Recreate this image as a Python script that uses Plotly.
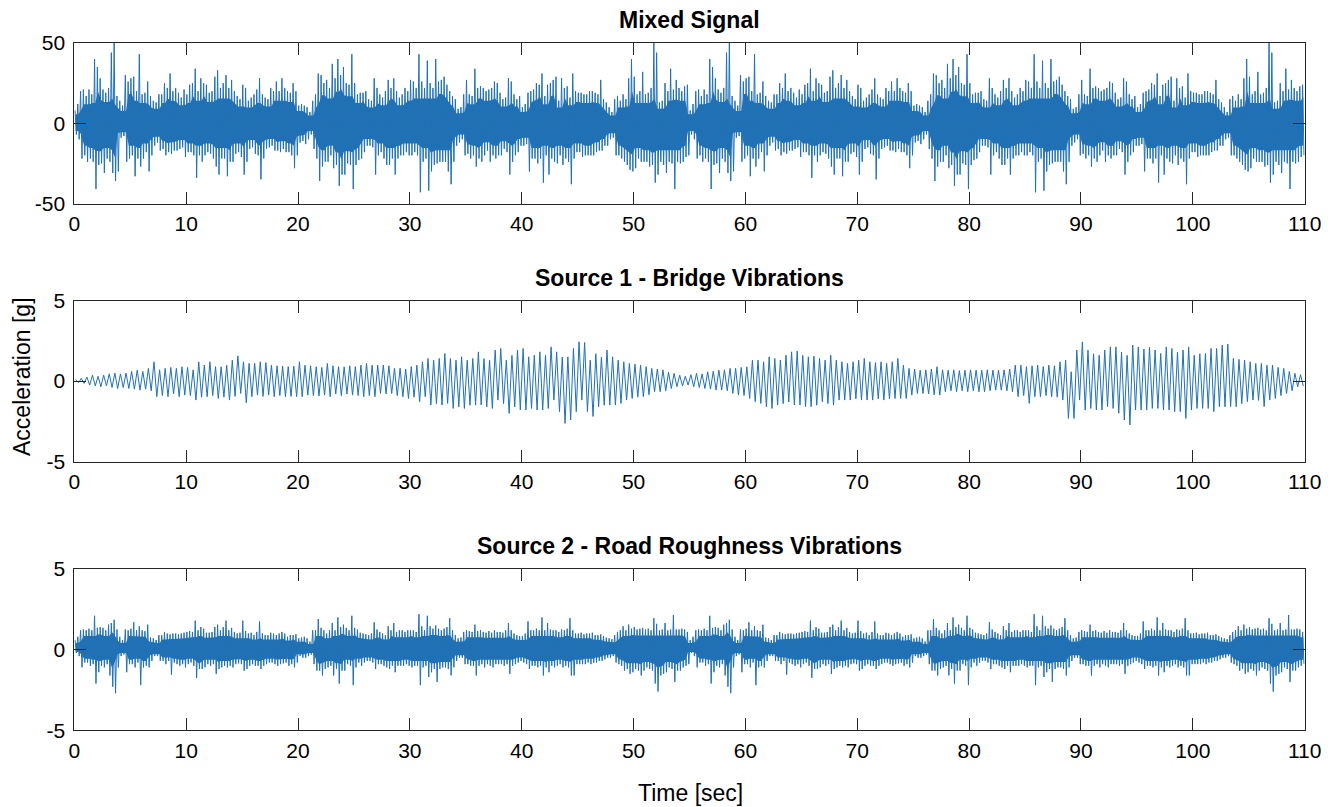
import plotly.graph_objects as go

# ---------------- data ----------------
# Each value is the upper / lower extreme of the trace inside one time bin.
mixed_bin = 0.25      # s
bridge_bin = 0.5      # s
road_bin = 0.25       # s

# Mixed signal, 0-55 s (the picture repeats this pattern from 55 to 110 s)
mixed_hi_0_55 = [
    8, 12, 20, 21, 17, 21, 18, 40, 35, 28, 21, 19, 22, 44, 50, 17, 14, 11, 30, 26,
    28, 29, 20, 43, 18, 19, 26, 17, 14, 13, 18, 18, 25, 22, 31, 20, 22, 19, 16, 21,
    18, 24, 25, 34, 20, 28, 25, 24, 19, 20, 29, 33, 22, 25, 30, 22, 27, 20, 17, 15,
    24, 22, 14, 16, 18, 21, 28, 18, 16, 15, 22, 20, 26, 20, 28, 22, 20, 19, 25, 20,
    11, 12, 11, 10, 7, 14, 18, 31, 30, 25, 27, 22, 37, 28, 40, 30, 35, 25, 24, 43,
    25, 18, 19, 19, 20, 15, 14, 28, 22, 18, 16, 20, 27, 22, 28, 20, 16, 18, 22, 20,
    27, 26, 22, 43, 26, 22, 39, 25, 22, 40, 26, 27, 29, 24, 20, 17, 15, 9, 10, 18,
    27, 18, 17, 34, 22, 23, 22, 20, 21, 22, 26, 25, 19, 15, 16, 28, 26, 18, 15, 17,
    10, 12, 19, 20, 21, 25, 24, 31, 17, 24, 25, 27, 29, 14, 28, 22, 23, 16, 31, 20,
    19, 19, 18, 18, 20, 20, 19, 18, 27, 15, 13, 10, 7, 15, 17, 14, 18, 15, 28, 40,
    29, 18, 20, 32, 18, 19, 22, 50, 44, 13, 14, 25, 20, 34, 21, 27, 22, 20, 23, 24,
]
mixed_lo_0_55 = [
    -7, -10, -22, -20, -24, -22, -24, -41, -26, -25, -31, -22, -24, -31, -36, -30, -9, -8, -24, -22,
    -20, -33, -22, -27, -22, -18, -30, -20, -14, -12, -17, -16, -20, -18, -19, -17, -17, -16, -15, -21,
    -18, -18, -20, -34, -20, -24, -20, -18, -19, -22, -27, -32, -22, -22, -33, -24, -24, -19, -18, -21,
    -32, -24, -16, -15, -19, -20, -35, -22, -16, -15, -14, -17, -17, -18, -16, -18, -18, -20, -28, -20,
    -12, -11, -13, -10, -7, -16, -22, -36, -27, -24, -24, -20, -28, -26, -39, -32, -32, -25, -26, -41,
    -26, -23, -22, -18, -14, -14, -15, -32, -20, -18, -22, -26, -26, -22, -32, -22, -20, -20, -18, -20,
    -20, -18, -20, -43, -24, -22, -42, -30, -26, -25, -24, -24, -24, -30, -38, -24, -14, -12, -10, -20,
    -19, -22, -20, -27, -22, -24, -20, -17, -24, -20, -22, -20, -20, -16, -18, -32, -24, -20, -18, -14,
    -14, -13, -30, -22, -22, -25, -22, -37, -20, -32, -22, -24, -25, -20, -26, -22, -24, -38, -22, -18,
    -18, -21, -20, -20, -20, -20, -18, -17, -17, -14, -14, -10, -9, -20, -20, -22, -24, -26, -29, -30,
    -28, -22, -24, -24, -24, -27, -26, -37, -32, -24, -26, -31, -24, -25, -41, -24, -25, -24, -21, -20,
]

# Source 1 - bridge vibrations, 0-110 s
bridge_hi = [
    0.1, 0.17, 0.25, 0.37, 0.3, 0.37, 0.45, 0.5, 0.45, 0.5, 0.6, 0.68, 0.6, 0.79, 1.2, 0.7, 0.79, 0.85, 0.79, 0.89,
    0.85, 0.7, 1.2, 1.0, 1.2, 0.9, 0.89, 0.99, 1.3, 1.57, 1.2, 1.1, 1.1, 1.2, 1.15, 0.99, 0.95, 0.93, 0.9, 0.93,
    1.2, 0.99, 0.95, 0.89, 0.85, 1.1, 0.95, 0.9, 0.89, 0.95, 0.9, 1.0, 1.1, 0.99, 0.99, 1.0, 0.95, 0.79, 0.8, 0.75,
    0.9, 0.99, 1.2, 1.41, 1.3, 1.41, 1.72, 1.4, 1.3, 1.51, 1.3, 1.41, 1.82, 1.4, 1.3, 1.93, 2.03, 1.3, 1.6, 1.93,
    2.03, 1.51, 1.61, 1.82, 1.6, 2.13, 1.82, 1.5, 1.51, 2.03, 2.44, 2.4, 1.3, 1.7, 1.5, 1.93, 1.51, 1.3, 1.2, 1.1,
    1.05, 0.99, 0.9, 0.79, 0.75, 0.7, 0.55, 0.48, 0.37, 0.3, 0.4, 0.48, 0.45, 0.58, 0.62, 0.68, 0.7, 0.79, 0.79, 0.85,
    0.89, 1.3, 1.3, 1.2, 1.51, 1.41, 1.3, 1.61, 1.82, 1.87, 1.6, 1.51, 1.55, 1.41, 1.3, 1.61, 1.3, 1.2, 1.1, 1.2,
    1.3, 1.41, 1.2, 1.15, 1.2, 1.1, 1.2, 1.41, 0.99, 0.79, 0.75, 0.68, 0.7, 0.75, 0.89, 0.7, 0.68, 0.7, 0.65, 0.68,
    0.7, 0.68, 0.68, 0.7, 0.68, 0.68, 0.7, 0.75, 0.99, 0.99, 0.9, 0.95, 0.99, 0.9, 0.99, 0.95, 1.2, 1.3, 0.58, 1.93,
    2.44, 1.93, 1.7, 1.61, 1.93, 2.13, 2.13, 1.8, 1.6, 2.24, 2.13, 2.0, 2.1, 1.93, 1.72, 2.13, 2.03, 1.8, 1.93, 2.13,
    1.61, 1.7, 1.72, 2.03, 2.03, 2.24, 2.3, 1.41, 1.35, 1.3, 1.2, 1.1, 1.1, 0.99, 0.99, 0.85, 0.79, 0.6, 0.48, 0.4,
]
bridge_lo = [
    -0.1, -0.14, -0.25, -0.3, -0.35, -0.3, -0.4, -0.46, -0.4, -0.46, -0.5, -0.56, -0.5, -0.6, -0.97, -0.9, -0.97, -0.8, -0.97, -0.87,
    -0.9, -1.18, -1.0, -0.97, -0.9, -1.08, -1.0, -1.18, -0.95, -0.77, -1.35, -0.97, -0.87, -0.95, -0.87, -0.97, -0.9, -0.97, -0.95, -0.97,
    -0.97, -0.87, -0.9, -0.92, -0.87, -0.97, -0.8, -0.9, -0.8, -0.87, -0.9, -0.97, -0.9, -0.97, -0.77, -0.8, -0.77, -0.9, -0.97, -1.08,
    -1.0, -1.28, -0.97, -1.49, -1.4, -1.49, -1.39, -1.7, -1.6, -1.7, -1.5, -1.49, -1.49, -1.6, -1.7, -1.18, -1.4, -2.01, -1.6, -1.8,
    -1.8, -1.7, -1.8, -1.8, -1.7, -1.18, -1.9, -2.63, -2.42, -1.9, -1.18, -1.9, -2.2, -1.6, -1.5, -1.49, -1.49, -1.39, -1.18, -1.08,
    -1.0, -0.97, -0.85, -0.66, -0.66, -0.6, -0.46, -0.35, -0.3, -0.25, -0.35, -0.4, -0.46, -0.5, -0.56, -0.56, -0.6, -0.77, -0.87, -0.9,
    -1.08, -1.28, -1.39, -1.59, -1.7, -1.49, -1.4, -1.3, -1.49, -1.49, -1.59, -1.59, -1.5, -1.28, -1.4, -1.49, -1.18, -1.18, -1.18, -1.1,
    -1.18, -1.18, -1.18, -1.1, -1.18, -1.1, -1.08, -1.08, -1.08, -0.87, -0.77, -0.77, -0.8, -0.85, -0.87, -0.66, -0.6, -0.66, -0.6, -0.66,
    -0.6, -0.66, -0.66, -0.6, -0.56, -0.56, -0.6, -0.66, -0.97, -0.9, -1.39, -0.97, -0.97, -0.9, -0.97, -1.0, -1.18, -2.32, -2.32, -1.18,
    -1.8, -1.7, -1.8, -1.8, -1.59, -1.7, -2.0, -2.42, -2.73, -1.8, -1.8, -1.8, -1.7, -1.7, -1.8, -1.8, -1.9, -1.9, -2.32, -1.8,
    -1.7, -1.7, -1.7, -1.9, -1.59, -1.6, -1.59, -1.59, -1.4, -1.28, -1.18, -1.2, -1.59, -1.18, -1.08, -0.9, -0.77, -0.6, -0.35, -0.3,
]

# Source 2 - road roughness vibrations, 0-55 s (repeats from 55 to 110 s)
road_hi_0_55 = [
    0.6, 0.8, 1.2, 1.25, 1.2, 1.3, 1.2, 2.1, 1.35, 1.4, 1.35, 1.2, 1.55, 1.65, 1.85, 1.25, 0.8, 0.6, 1.25, 1.2,
    1.3, 1.7, 1.2, 1.45, 1.2, 1.15, 1.55, 0.75, 0.7, 0.6, 0.9, 0.9, 1.1, 1.0, 0.95, 1.0, 1.0, 0.95, 1.0, 1.05,
    1.1, 1.15, 1.1, 1.8, 1.2, 1.4, 1.3, 1.05, 1.05, 1.1, 1.4, 1.55, 1.2, 1.4, 1.8, 1.2, 1.35, 1.1, 1.0, 1.05,
    1.8, 1.15, 1.0, 1.05, 0.9, 1.1, 1.75, 1.0, 0.9, 0.9, 1.05, 1.0, 0.9, 1.0, 1.1, 1.0, 0.8, 0.9, 0.9, 0.95,
    0.7, 0.75, 0.8, 0.7, 0.5, 1.2, 1.2, 1.9, 1.35, 1.2, 1.0, 1.2, 1.65, 1.2, 2.0, 1.4, 1.55, 1.35, 1.2, 2.1,
    1.35, 1.25, 1.05, 1.0, 0.95, 0.9, 1.0, 1.7, 1.25, 1.1, 1.0, 0.9, 1.45, 1.2, 1.65, 1.1, 1.2, 1.2, 1.1, 1.2,
    1.2, 1.2, 1.1, 2.2, 1.45, 1.2, 2.1, 1.45, 1.3, 1.5, 1.3, 1.2, 1.3, 1.4, 1.95, 1.2, 0.9, 0.7, 0.75, 1.1,
    1.2, 1.15, 1.1, 1.55, 1.15, 1.2, 1.1, 1.05, 1.15, 1.05, 1.2, 1.1, 1.1, 1.05, 1.2, 1.65, 1.2, 1.0, 0.9, 0.85,
    0.85, 1.0, 1.75, 1.2, 1.2, 1.3, 1.2, 2.0, 1.2, 1.65, 1.25, 1.2, 1.2, 1.1, 1.25, 1.2, 1.3, 1.95, 1.2, 1.0,
    1.0, 1.05, 0.95, 1.0, 1.0, 1.05, 0.9, 0.9, 0.95, 0.85, 0.75, 0.7, 0.65, 0.9, 1.1, 1.2, 1.45, 1.2, 1.55, 1.3,
    1.4, 1.25, 1.3, 1.35, 1.25, 1.3, 1.2, 1.95, 1.6, 1.2, 1.25, 1.65, 1.2, 1.25, 2.15, 1.25, 1.25, 1.3, 1.25, 1.1,
]
road_lo_0_55 = [
    -0.2, -0.4, -1.1, -0.8, -0.8, -1.0, -0.9, -2.1, -1.4, -1.0, -1.1, -0.9, -1.6, -2.3, -2.7, -1.1, -0.4, -0.3, -1.4, -0.9,
    -0.9, -1.1, -0.8, -2.2, -1.1, -1.0, -1.1, -0.7, -0.4, -0.4, -0.7, -0.7, -0.9, -0.7, -1.55, -0.8, -0.9, -1.0, -0.9, -1.1,
    -0.9, -0.8, -1.0, -1.75, -1.2, -1.2, -1.1, -0.9, -1.0, -0.9, -1.5, -1.2, -1.1, -1.0, -1.1, -1.0, -1.1, -0.9, -0.85, -0.9,
    -1.3, -1.2, -1.0, -0.9, -1.0, -1.0, -1.2, -1.0, -0.9, -0.8, -0.8, -0.9, -1.0, -0.9, -0.85, -0.8, -1.0, -0.9, -1.1, -0.8,
    -0.4, -0.5, -0.5, -0.4, -0.3, -0.9, -1.3, -1.3, -1.6, -1.2, -1.1, -1.0, -1.6, -1.2, -2.1, -1.3, -1.3, -0.9, -1.0, -2.2,
    -1.1, -0.8, -1.0, -0.8, -0.7, -0.7, -0.8, -1.2, -0.9, -0.9, -1.0, -1.1, -1.2, -1.0, -1.4, -1.0, -1.0, -1.0, -0.9, -1.0,
    -1.1, -1.0, -1.0, -2.2, -1.1, -1.0, -1.7, -1.4, -1.2, -2.0, -1.2, -1.1, -1.1, -1.2, -1.6, -1.1, -0.7, -0.5, -0.5, -0.9,
    -0.9, -1.0, -1.0, -1.6, -1.0, -0.9, -1.1, -0.9, -1.0, -1.1, -0.9, -0.9, -0.9, -1.0, -0.9, -1.5, -1.0, -0.9, -0.8, -0.7,
    -0.8, -0.9, -1.2, -1.0, -1.0, -1.1, -1.0, -1.6, -1.1, -1.4, -1.0, -1.1, -1.0, -0.9, -1.1, -1.0, -1.1, -1.6, -1.6, -0.9,
    -0.9, -0.9, -0.9, -0.8, -0.9, -0.8, -0.8, -0.7, -0.7, -0.6, -0.5, -0.5, -0.4, -0.8, -0.9, -1.0, -1.3, -1.2, -1.5, -1.4,
    -1.2, -1.3, -1.6, -1.3, -1.1, -1.2, -1.3, -2.1, -2.6, -1.6, -1.5, -1.4, -1.1, -1.2, -2.0, -1.3, -1.3, -1.1, -1.0, -0.9,
]

mixed_hi = mixed_hi_0_55 + mixed_hi_0_55
mixed_lo = mixed_lo_0_55 + mixed_lo_0_55
road_hi = road_hi_0_55 + road_hi_0_55
road_lo = road_lo_0_55 + road_lo_0_55

x_ticks = list(range(0, 111, 10))
titles = ["Mixed Signal", "Source 1 - Bridge Vibrations", "Source 2 - Road Roughness Vibrations"]
y_ranges = [[-50, 50], [-5, 5], [-5, 5]]
y_ticks = [[-50, 0, 50], [-5, 0, 5], [-5, 0, 5]]
y_ticktext = [["-50", "0", "50"], ["-5", "0", "5"], ["-5", "0", "5"]]
x_label = "Time [sec]"
y_label = "Acceleration [g]"


def trace_points(hi, lo, width):
    xs, ys = [], []
    for i, (h, l) in enumerate(zip(hi, lo)):
        t0 = i * width
        xs += [t0 + 0.25 * width, t0 + 0.75 * width]
        ys += [h, l]
    return xs, ys


CORE_SHARE = 0.7   # how much of the neighbouring swing renders as a solid band


def dense_core(hi, lo, width):
    """Polygon of the dense, fully inked middle of the trace."""
    n = len(hi)
    xs, up, dn = [], [], []
    for i in range(n):
        a, b = max(0, i - 1), min(n, i + 2)
        xs.append(i * width + 0.5 * width)
        up.append(CORE_SHARE * min(hi[a:b]))
        dn.append(CORE_SHARE * max(lo[a:b]))
    return xs + xs[::-1], up + dn[::-1]


W, H = 1337, 807
LINE = "#2171b5"
AX = "#262626"
FONT = "Liberation Sans, Arial, Helvetica, sans-serif"

x_dom = [74.3 / W, 1304.7 / W]
boxes = [(43.0, 203.5), (300.7, 461.5), (569.0, 730.3)]   # top, bottom in px
title_y = [20, 278, 546]
line_w = [1.0, 1.0, 1.0]

data_sets = [
    (mixed_hi, mixed_lo, mixed_bin, True),
    (bridge_hi, bridge_lo, bridge_bin, False),
    (road_hi, road_lo, road_bin, True),
]

fig = go.Figure()
layout = dict(
    width=W, height=H, autosize=False,
    margin=dict(l=0, r=0, t=0, b=0, pad=0),
    paper_bgcolor="white", plot_bgcolor="white",
    showlegend=False,
    font=dict(family=FONT, color=AX),
)

annotations = []
for k in range(3):
    sfx = "" if k == 0 else str(k + 1)
    hi, lo, wdt, solid = data_sets[k]
    if solid:
        cx, cy = dense_core(hi, lo, wdt)
        fig.add_trace(go.Scatter(
            x=cx, y=cy, mode="lines", fill="toself", fillcolor=LINE,
            line=dict(width=0, color=LINE),
            xaxis="x" + sfx, yaxis="y" + sfx, hoverinfo="skip",
        ))
    xs, ys = trace_points(hi, lo, wdt)
    fig.add_trace(go.Scatter(
        x=xs, y=ys, mode="lines",
        line=dict(color=LINE, width=line_w[k], simplify=False),
        xaxis="x" + sfx, yaxis="y" + sfx, hoverinfo="skip",
    ))
    top, bot = boxes[k]
    common = dict(
        showline=True, linecolor=AX, linewidth=1, mirror="ticks",
        ticks="inside", ticklen=12, tickwidth=1, tickcolor=AX,
        showgrid=False, zeroline=False, automargin=False,
        tickfont=dict(family=FONT, size=21, color="black"),
    )
    layout["xaxis" + sfx] = dict(
        domain=x_dom, range=[0, 110], tickvals=x_ticks,
        anchor="y" + sfx, ticklabelstandoff=1, **common,
    )
    layout["yaxis" + sfx] = dict(
        domain=[1 - bot / H, 1 - top / H], range=y_ranges[k],
        tickvals=y_ticks[k], ticktext=y_ticktext[k],
        anchor="x" + sfx, ticklabelstandoff=4, **common,
    )
    annotations.append(dict(
        text="<b>" + titles[k] + "</b>", xref="paper", yref="paper",
        x=(x_dom[0] + x_dom[1]) / 2, y=1 - title_y[k] / H,
        xanchor="center", yanchor="middle", showarrow=False,
        font=dict(family=FONT, size=23, color="black"),
    ))

annotations.append(dict(
    text=y_label, xref="paper", yref="paper", x=22 / W, y=1 - 377 / H,
    xanchor="center", yanchor="middle", textangle=-90, showarrow=False,
    font=dict(family=FONT, size=23, color="black"),
))
annotations.append(dict(
    text=x_label, xref="paper", yref="paper", x=690 / W, y=1 - 793 / H,
    xanchor="center", yanchor="middle", showarrow=False,
    font=dict(family=FONT, size=23, color="black"),
))
layout["annotations"] = annotations
fig.update_layout(**layout)
fig.write_html("out.html")
